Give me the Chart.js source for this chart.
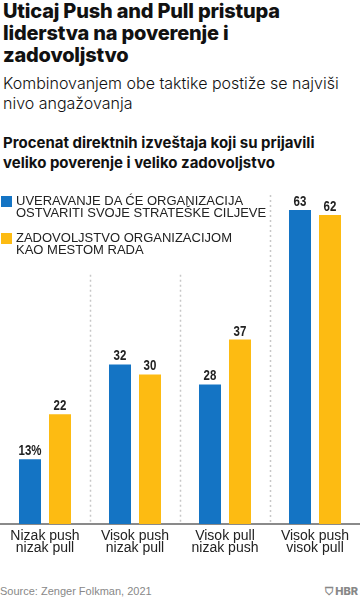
<!DOCTYPE html>
<html><head><meta charset="utf-8">
<script src="https://cdn.jsdelivr.net/npm/chart.js@4/dist/chart.umd.min.js"></script>
<style>
html,body{margin:0;padding:0;background:#fff;width:360px;height:600px;overflow:hidden;font-family:Inter,"Liberation Sans",sans-serif;color:#111;}
#title{position:absolute;left:3px;top:0px;font-size:20px;font-weight:800;line-height:22px;letter-spacing:-0.2px;}
#sub{position:absolute;left:3px;top:73px;font-size:16px;font-weight:300;line-height:20px;}
#ctitle{position:absolute;left:3px;top:133px;font-size:15px;font-weight:700;line-height:20px;}
#legend{position:absolute;left:0;top:195px;font-family:"Liberation Sans",Arial,sans-serif;font-size:13px;line-height:11.5px;color:#222;}
.li{position:relative;padding-left:16px;margin-bottom:14px;}
.sw{position:absolute;left:1px;top:1px;width:11px;height:11px;}
#src{position:absolute;left:0;top:585px;font-size:11px;color:#888;font-family:"Liberation Sans",Arial,sans-serif;}
#hbr{position:absolute;right:2px;top:584px;font-size:11px;font-weight:800;color:#888;font-family:Inter,sans-serif;}
canvas{position:absolute;left:0;top:180px;}
</style></head><body>
<div id="title">Uticaj Push and Pull pristupa<br>liderstva na poverenje i<br>zadovoljstvo</div>
<div id="sub">Kombinovanjem obe taktike postiže se najviši<br>nivo angažovanja</div>
<div id="ctitle">Procenat direktnih izveštaja koji su prijavili<br>veliko poverenje i veliko zadovoljstvo</div>
<canvas id="c" width="360" height="390" style="width:360px;height:390px"></canvas>
<div id="legend"></div>
<div id="src">Source: Zenger Folkman, 2021</div>
<div id="hbr">&#x26C9; HBR</div>
<script>
const categories = [["Nizak push","nizak pull"],["Visok push","nizak pull"],["Visok pull","nizak push"],["Visok push","visok pull"]];
const seriesNames = [["UVERAVANJE DA ĆE ORGANIZACIJA","OSTVARITI SVOJE STRATEŠKE CILJEVE"],["ZADOVOLJSTVO ORGANIZACIJOM","KAO MESTOM RADA"]];
const strategicGoals = [13,32,28,63];
const satisfaction = [22,30,37,62];
const colors = ["#1474c4","#fdbb12"];

const leg = document.getElementById('legend');
seriesNames.forEach((n,i)=>{
  const d=document.createElement('div');d.className='li';
  d.innerHTML='<span class="sw" style="background:'+colors[i]+'"></span>'+n.join('<br>');
  leg.appendChild(d);
});

const dividers = {
  id:'dividers',
  beforeDatasetsDraw(chart){
    const {ctx, scales:{x,y}, chartArea} = chart;
    ctx.save();
    ctx.strokeStyle='#c8c8c8';ctx.lineWidth=1.5;ctx.setLineDash([2,3]);
    for(let i=1;i<categories.length;i++){
      const px=(x.getPixelForValue(i-1)+x.getPixelForValue(i))/2;
      const top = i<categories.length-1 ? y.getPixelForValue(50) : chartArea.top;
      ctx.beginPath();ctx.moveTo(Math.round(px)+0.5,top);ctx.lineTo(Math.round(px)+0.5,chartArea.bottom);ctx.stroke();
    }
    ctx.restore();
  }
};
const valueLabels = {
  id:'valueLabels',
  afterDatasetsDraw(chart){
    const ctx=chart.ctx;
    chart.data.datasets.forEach((ds,di)=>{
      chart.getDatasetMeta(di).data.forEach((el,i)=>{
        const t = ds.data[i] + (di===0&&i===0?'%':'');
        ctx.save();
        ctx.font='bold 14px "Liberation Sans",Arial,sans-serif';
        ctx.fillStyle='#222';ctx.textAlign='center';ctx.textBaseline='alphabetic';
        ctx.translate(el.x, el.y-4);
        ctx.scale(0.82,1);
        ctx.fillText(t, 0, 0);
        ctx.restore();
      });
    });
  }
};

new Chart(document.getElementById('c'),{
  type:'bar',
  data:{labels:categories,datasets:[
    {label:seriesNames[0].join(' '),data:strategicGoals,backgroundColor:colors[0]},
    {label:seriesNames[1].join(' '),data:satisfaction,backgroundColor:colors[1]}
  ]},
  options:{
    responsive:false,animation:false,devicePixelRatio:1,
    categoryPercentage:0.6667,barPercentage:0.7333,
    layout:{padding:{top:15,left:0,right:0,bottom:0}},
    plugins:{legend:{display:false},tooltip:{enabled:false}},
    scales:{
      y:{display:false,min:0,max:66},
      x:{
        grid:{display:false,drawTicks:false},
        border:{display:true,color:'#8a8a8a',width:2},
        ticks:{color:'#222',padding:6,font:{family:'"Liberation Sans",Arial,sans-serif',size:14,lineHeight:0.86},maxRotation:0,autoSkip:false},
        afterFit(a){a.height=46;}
      }
    }
  },
  plugins:[dividers,valueLabels]
});
</script>
</body></html>
